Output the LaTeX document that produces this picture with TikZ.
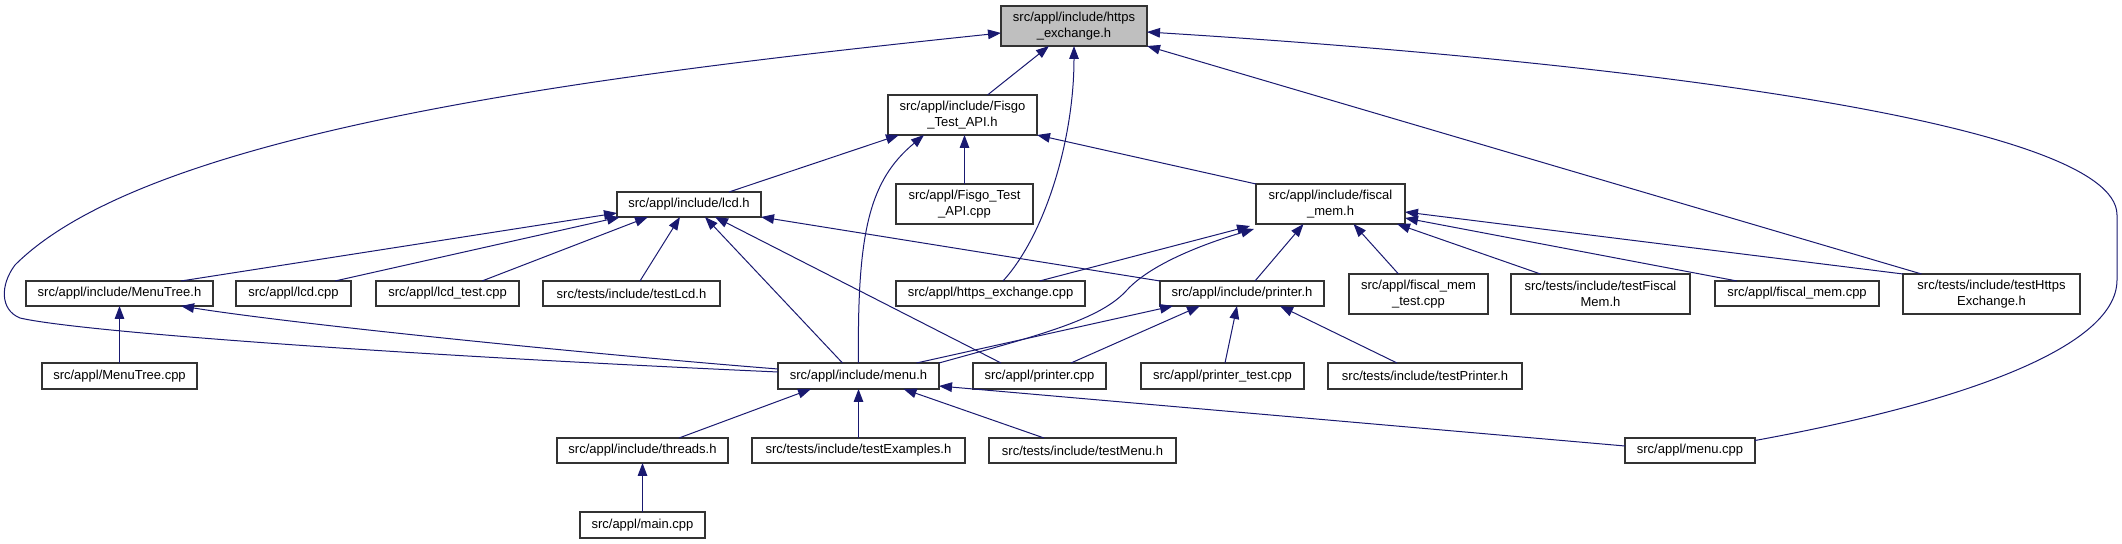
\documentclass[tikz,border=0pt]{standalone}
\usepackage{fontspec}
\setmainfont{Liberation Sans}
\usetikzlibrary{arrows.meta,calc}
\definecolor{edgeblue}{HTML}{191970}
\newcommand{\fnode}[7][]{%
  \pgfmathsetmacro\bw{(#5-#3)*0.5}%
  \pgfmathsetmacro\bh{(#6-#4)*0.5}%
  \pgfmathsetmacro\bcx{(#3+#5)/2}%
  \pgfmathsetmacro\bcy{(#4+#6)/2}%
  \node[filebox,#1,minimum width=\bw pt,minimum height=\bh pt] (#2) at (\bcx,\bcy) {#7};}
\begin{document}
\begin{tikzpicture}[x=0.5pt,y=-0.5pt,
  filebox/.style={draw=black!80,line width=0.6pt,fill=white,inner sep=0pt,outer sep=0pt,
    align=center,font=\fontsize{6.5pt}{7.7pt}\selectfont},
  incl/.style={draw=edgeblue,line width=0.5pt,-{Triangle[length=6.5pt,width=4.8pt]}}]
\useasboundingbox (0,0) rectangle (2122,544);

% nodes
\fnode[fill=black!25]{https}{1001}{6}{1147}{46}{src/appl/include/https\\\_exchange.h}
\fnode{fisgo}{888}{95}{1037}{135}{src/appl/include/Fisgo\\\_Test\_API.h}
\fnode{fisgocpp}{896}{184}{1033}{224}{src/appl/Fisgo\_Test\\\_API.cpp}
\fnode{fiscal}{1256}{184}{1405}{224}{src/appl/include/fiscal\\\_mem.h}
\fnode{lcd}{617}{192}{761}{217}{src/appl/include/lcd.h}
\fnode{menutree}{26}{281}{213}{306}{src/appl/include/MenuTree.h}
\fnode{lcdcpp}{236}{281}{351}{306}{src/appl/lcd.cpp}
\fnode{lcdtest}{376}{281}{519}{306}{src/appl/lcd\_test.cpp}
\fnode{testlcd}{543}{281}{720}{306}{src/tests/include/testLcd.h}
\fnode{hcpp}{896}{281}{1085}{306}{src/appl/https\_exchange.cpp}
\fnode{printer}{1160}{281}{1324}{306}{src/appl/include/printer.h}
\fnode{fmtest}{1349}{274}{1488}{314}{src/appl/fiscal\_mem\\\_test.cpp}
\fnode{testfiscal}{1511}{274}{1690}{314}{src/tests/include/testFiscal\\Mem.h}
\fnode{fmcpp}{1715}{281}{1879}{306}{src/appl/fiscal\_mem.cpp}
\fnode{testhttps}{1903}{274}{2080}{314}{src/tests/include/testHttps\\Exchange.h}
\fnode{menutreecpp}{42}{363}{197}{389}{src/appl/MenuTree.cpp}
\fnode{menuh}{778}{363}{939}{389}{src/appl/include/menu.h}
\fnode{printercpp}{973}{363}{1106}{389}{src/appl/printer.cpp}
\fnode{printertest}{1141}{363}{1304}{389}{src/appl/printer\_test.cpp}
\fnode{testprinter}{1328}{363}{1522}{389}{src/tests/include/testPrinter.h}
\fnode{threads}{557}{438}{728}{463}{src/appl/include/threads.h}
\fnode{testexamples}{752}{438}{965}{463}{src/tests/include/testExamples.h}
\fnode{testmenu}{989}{438}{1176}{463}{src/tests/include/testMenu.h}
\fnode{menucpp}{1625}{438}{1755}{463}{src/appl/menu.cpp}
\fnode{main}{580}{512}{705}{538}{src/appl/main.cpp}

% edges into https_exchange.h
\draw[incl] ($(fisgo.north)+(25,0)$) -- ($(https.south)+(-25,0)$);
\draw[incl] ($(hcpp.north)+(12.5,0)$) .. controls (1045,235) and (1074,140) .. (https.south);
\draw[incl] ($(testhttps.north)+(-70,0)$) -- (https.south east);
\draw[incl] ($(menucpp.east)+(0,-10)$) .. controls (1950,405) and (2117,350) .. (2117,280)
  -- (2117,215) .. controls (2117,120) and (1600,60) .. ($(https.east)+(0,6)$);
\draw[incl] ($(menuh.west)+(0,-4)$) .. controls (400,355) and (80,332) .. (20,318)
  .. controls (0,310) and (0,285) .. (15,265)
  .. controls (150,130) and (600,75) .. ($(https.west)+(0,7)$);

% edges into Fisgo_Test_API.h
\draw[incl] ($(lcd.north)+(40,0)$) -- ($(fisgo.south)+(-63.5,0)$);
\draw[incl] (menuh.north) .. controls (857,230) and (870,180) .. ($(fisgo.south)+(-38.5,0)$);
\draw[incl] (fisgocpp.north) -- (fisgocpp.north |- fisgo.south);
\draw[incl] (fiscal.north west) -- (fisgo.south east);

% edges into lcd.h
\draw[incl] ($(menutree.north)+(61.5,0)$) -- ($(lcd.south west)+(0,-4)$);
\draw[incl] ($(lcdcpp.north)+(41.5,0)$) -- ($(lcd.south west)+(3,0)$);
\draw[incl] ($(lcdtest.north)+(34.5,0)$) -- ($(lcd.south)+(-41,0)$);
\draw[incl] ($(testlcd.north)+(8.5,0)$) -- ($(lcd.south)+(-9,0)$);
\draw[incl] ($(menuh.north)+(-16,0)$) -- ($(lcd.south)+(16,0)$);
\draw[incl] ($(printercpp.north)+(-38.5,0)$) -- ($(lcd.south)+(26,0)$);
\draw[incl] (printer.north west) -- (lcd.south east);

% edges into fiscal_mem.h
\draw[incl] ($(hcpp.north)+(49,0)$) -- ($(fiscal.south west)+(-6,2)$);
\draw[incl] (menuh.north east) .. controls (1040,335) and (1100,320) .. (1127,290)
  .. controls (1150,265) and (1200,245) .. ($(fiscal.south west)+(-2,5)$);
\draw[incl] ($(printer.north)+(13,0)$) -- ($(fiscal.south)+(-27,0)$);
\draw[incl] ($(fmtest.north)+(-20,0)$) -- ($(fiscal.south)+(23,0)$);
\draw[incl] ($(testfiscal.north)+(-60,0)$) -- ($(fiscal.south east)+(-8,0)$);
\draw[incl] ($(fmcpp.north)+(-60,0)$) -- ($(fiscal.east)+(0,14)$);
\draw[incl] (testhttps.north west) -- ($(fiscal.east)+(0,8)$);

% edges into printer.h
\draw[incl] ($(menuh.north)+(58,0)$) -- ($(printer.south)+(-69,0)$);
\draw[incl] ($(printercpp.north)+(31.5,0)$) -- ($(printer.south)+(-42,0)$);
\draw[incl] ($(printertest.north)+(2.5,0)$) -- ($(printer.south)+(-5,0)$);
\draw[incl] ($(testprinter.north)+(-28,0)$) -- ($(printer.south)+(38,0)$);

% edges into MenuTree.h
\draw[incl] ($(menuh.west)+(0,-7)$) .. controls (600,355) and (300,325) .. ($(menutree.south)+(61.5,0)$);
\draw[incl] (menutreecpp.north) -- (menutree.south);

% edges into menu.h
\draw[incl] ($(threads.north)+(36.5,0)$) -- ($(menuh.south)+(-47.5,0)$);
\draw[incl] (testexamples.north) -- (menuh.south);
\draw[incl] ($(testmenu.north)+(-38.5,0)$) -- ($(menuh.south)+(45,0)$);
\draw[incl] ($(menucpp.west)+(0,-4.5)$) -- ($(menuh.east)+(0,10)$);

% edge into threads.h
\draw[incl] (main.north) -- (threads.south);
\end{tikzpicture}
\end{document}
